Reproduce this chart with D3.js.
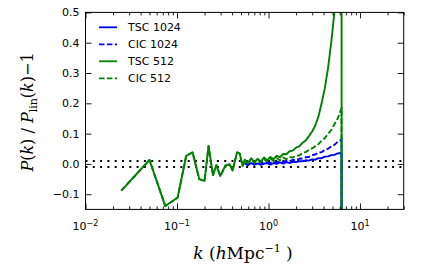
<!DOCTYPE html>
<html>
<head>
<meta charset="utf-8">
<script src="https://cdn.jsdelivr.net/npm/d3@7"></script>
<style>
html,body{margin:0;padding:0;background:#fff;}
svg{display:block;}
</style>
</head>
<body>
<svg id="chart" width="425" height="264"></svg>
<script>
// ---- data ----
const seriesNames = ["TSC 1024", "CIC 1024", "TSC 512", "CIC 512"];
// low-k bins (only visible for the 512 runs; both assignments coincide here)
const kLow = [0.0246, 0.05, 0.0745, 0.1016, 0.126, 0.148, 0.175, 0.2, 0.221, 0.247, 0.269, 0.297, 0.337, 0.376, 0.405, 0.453, 0.483, 0.521];
const lowTSC512 = [-0.088, 0.013, -0.139, -0.111, 0.027, 0.038, -0.050, -0.056, 0.059, -0.037, -0.004, -0.040, -0.006, -0.001, -0.022, 0.038, 0.035, -0.006];
const lowCIC512 = [-0.088, 0.013, -0.139, -0.111, 0.027, 0.038, -0.050, -0.056, 0.059, -0.037, -0.004, -0.040, -0.006, -0.001, -0.022, 0.038, 0.035, -0.006];
// high-k bins shared by all runs
const kHigh = [0.55, 0.596, 0.646, 0.70, 0.759, 0.822, 0.891, 0.966, 1.047, 1.135, 1.23, 1.334, 1.445, 1.567, 1.698, 1.841, 1.995, 2.163, 2.344, 2.541, 2.754, 2.985, 3.236, 3.508, 3.802, 4.121, 4.467, 4.842, 5.248, 5.689, 6.166, 6.28, 6.30];
const hiTSC512 = [0.014, 0.003, 0.019, 0.006, 0.017, 0.008, 0.021, 0.012, 0.023, 0.016, 0.027, 0.022, 0.033, 0.032, 0.042, 0.044, 0.054, 0.058, 0.069, 0.077, 0.091, 0.106, 0.126, 0.156, 0.200, 0.250, 0.315, 0.400, 0.500, 0.650, 0.900, 1.5, -1];
const hiCIC512 = [0.009, 0.002, 0.015, 0.004, 0.013, 0.006, 0.016, 0.008, 0.017, 0.010, 0.019, 0.012, 0.021, 0.016, 0.023, 0.021, 0.027, 0.028, 0.035, 0.039, 0.046, 0.051, 0.058, 0.065, 0.077, 0.085, 0.099, 0.112, 0.131, 0.149, 0.178, 0.185, -1];
const hiTSC1024 = [0.002, -0.004, 0.003, -0.003, 0.002, -0.003, 0.001, 0.003, -0.002, 0.003, 0.000, 0.005, 0.001, 0.006, 0.003, 0.007, 0.006, 0.009, 0.009, 0.012, 0.011, 0.015, 0.014, 0.019, 0.019, 0.024, 0.025, 0.029, 0.030, 0.035, 0.036, 0.038, -1];
const hiCIC1024 = [0.001, 0.004, -0.002, 0.003, -0.001, 0.005, 0.000, 0.004, 0.004, 0.006, 0.005, 0.008, 0.007, 0.010, 0.009, 0.013, 0.013, 0.017, 0.018, 0.022, 0.023, 0.029, 0.031, 0.037, 0.039, 0.046, 0.050, 0.058, 0.063, 0.073, 0.078, 0.081, -1];
const yTicks = [-0.1, 0.0, 0.1, 0.2, 0.3, 0.4, 0.5];
const xTicks = [0.01, 0.1, 1, 10];
const xTickExp = ["−2", "−1", "0", "1"];
const refBand = [-0.01, 0.01];

// ---- layout ----
const L = 85.5, R = 403.7, T = 12.4, B = 209.4;
const svg = d3.select("#chart");
const x = d3.scaleLog().domain([0.01, 30]).range([L, R]);
const y = d3.scaleLinear().domain([-0.15, 0.5]).range([B, T]);

svg.append("defs").append("clipPath").attr("id", "clip")
  .append("rect").attr("x", L).attr("y", T).attr("width", R - L).attr("height", B - T);

const plot = svg.append("g").attr("clip-path", "url(#clip)");

// reference dotted lines
refBand.forEach(v => {
  plot.append("line").attr("x1", L).attr("x2", R).attr("y1", y(v)).attr("y2", y(v))
    .attr("stroke", "#000").attr("stroke-width", 2).attr("stroke-dasharray", "2,5.3");
});

const line = d3.line().x(d => x(d[0])).y(d => y(d[1]));
const zip = (ks, vs) => ks.map((k, i) => [k, vs[i]]);

const series = [
  {name: seriesNames[0], color: "#0000ff", dash: null, pts: zip(kHigh, hiTSC1024)},
  {name: seriesNames[1], color: "#0000ff", dash: "5.5,2.4", pts: zip(kHigh, hiCIC1024)},
  {name: seriesNames[2], color: "#008000", dash: null, pts: zip(kLow, lowTSC512).concat(zip(kHigh, hiTSC512))},
  {name: seriesNames[3], color: "#008000", dash: "5.5,2.4", pts: zip(kLow, lowCIC512).concat(zip(kHigh, hiCIC512))}
];

series.forEach(s => {
  plot.append("path").attr("d", line(s.pts)).attr("fill", "none")
    .attr("stroke", s.color).attr("stroke-width", 1.9)
    .attr("stroke-linejoin", "round")
    .attr("stroke-dasharray", s.dash);
});

// ---- axes ----
const font = "'DejaVu Sans', sans-serif";
function style(g) {
  g.select(".domain").remove();
  g.selectAll("line").attr("stroke", "#000").attr("stroke-width", 0.9);
  g.selectAll("text").attr("font-family", font).attr("font-size", 11).attr("fill", "#000");
}
const minor = [];
[0.01, 0.1, 1, 10].forEach(d => { for (let m = 2; m <= 9; m++) { const v = d * m; if (v <= 30) minor.push(v); } });

// bottom
svg.append("g").attr("transform", `translate(0,${B})`)
  .call(d3.axisBottom(x).tickValues(xTicks).tickSize(-6).tickFormat(() => ""))
  .call(style);
svg.append("g").attr("transform", `translate(0,${B})`)
  .call(d3.axisBottom(x).tickValues(minor).tickSize(-3).tickFormat(() => ""))
  .call(style);
// top
svg.append("g").attr("transform", `translate(0,${T})`)
  .call(d3.axisTop(x).tickValues(xTicks).tickSize(-6).tickFormat(() => ""))
  .call(style);
svg.append("g").attr("transform", `translate(0,${T})`)
  .call(d3.axisTop(x).tickValues(minor).tickSize(-3).tickFormat(() => ""))
  .call(style);
// x labels with superscripts
xTicks.forEach((v, i) => {
  const t = svg.append("text").attr("x", x(v)).attr("y", 230)
    .attr("font-family", font).attr("font-size", 11).attr("text-anchor", "middle");
  t.append("tspan").text("10");
  t.append("tspan").attr("dy", -4.5).attr("font-size", 8).text(xTickExp[i]);
});
// left
svg.append("g").attr("transform", `translate(${L},0)`)
  .call(d3.axisLeft(y).tickValues(yTicks).tickSize(-6).tickPadding(6)
    .tickFormat(d => d3.format(".1f")(d).replace("-", "−")))
  .call(style);
// right
svg.append("g").attr("transform", `translate(${R},0)`)
  .call(d3.axisRight(y).tickValues(yTicks).tickSize(-6).tickFormat(() => ""))
  .call(style);

// frame
svg.append("rect").attr("x", L).attr("y", T).attr("width", R - L).attr("height", B - T)
  .attr("fill", "none").attr("stroke", "#000").attr("stroke-width", 1);

// ---- legend ----
const lg = svg.append("g");
series.forEach((s, i) => {
  const yy = 27.3 + i * 17;
  lg.append("line").attr("x1", 99).attr("x2", 117).attr("y1", yy).attr("y2", yy)
    .attr("stroke", s.color).attr("stroke-width", 1.8).attr("stroke-dasharray", s.dash);
  lg.append("text").attr("x", 128).attr("y", yy + 4).attr("font-family", font)
    .attr("font-size", 11).text(s.name);
});

// ---- axis titles ----
const serif = "'DejaVu Serif', 'Liberation Serif', serif";
const xl = svg.append("text").attr("x", 243).attr("y", 259).attr("text-anchor", "middle")
  .attr("font-family", serif).attr("font-size", 17);
xl.append("tspan").attr("font-style", "italic").text("k");
xl.append("tspan").text(" (");
xl.append("tspan").attr("font-style", "italic").text("h");
xl.append("tspan").text("Mpc");
xl.append("tspan").attr("dy", -7).attr("font-size", 11).text("−1");
xl.append("tspan").attr("dy", 7).text(" )");

const yl = svg.append("text").attr("transform", "translate(33,112) rotate(-90)")
  .attr("text-anchor", "middle").attr("font-family", serif).attr("font-size", 16);
yl.append("tspan").attr("font-style", "italic").text("P");
yl.append("tspan").text("(");
yl.append("tspan").attr("font-style", "italic").text("k");
yl.append("tspan").text(")");
yl.append("tspan").text(" / ");
yl.append("tspan").attr("font-style", "italic").text("P");
yl.append("tspan").attr("dy", 4).attr("font-size", 11).text("lin");
yl.append("tspan").attr("dy", -4).text("(");
yl.append("tspan").attr("font-style", "italic").text("k");
yl.append("tspan").text(")−1");
</script>
</body>
</html>
